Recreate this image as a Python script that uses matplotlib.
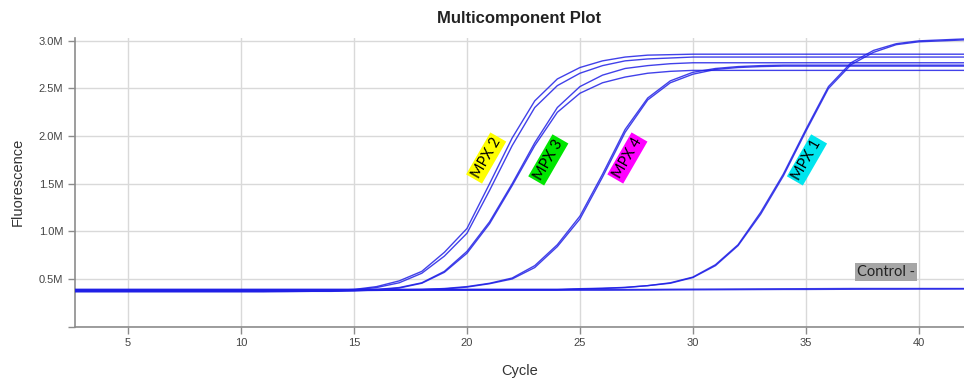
import numpy as np
import matplotlib.pyplot as plt
from matplotlib.ticker import FuncFormatter

# cycles 1..42, fluorescence in millions
cycles = list(range(1, 43))

mpx2_a = [0.37, 0.37, 0.37, 0.37, 0.37, 0.37, 0.37, 0.37, 0.37, 0.37, 0.37, 0.372, 0.375, 0.38,
          0.39, 0.42, 0.48, 0.58, 0.78, 1.03, 1.50, 1.98, 2.37, 2.60, 2.72, 2.79, 2.83, 2.85,
          2.855, 2.86, 2.86, 2.86, 2.86, 2.86, 2.86, 2.86, 2.86, 2.86, 2.86, 2.86, 2.86, 2.86]
mpx2_b = [0.365, 0.365, 0.365, 0.365, 0.365, 0.365, 0.365, 0.365, 0.365, 0.365, 0.365, 0.367, 0.37, 0.375,
          0.385, 0.41, 0.46, 0.56, 0.74, 0.98, 1.43, 1.90, 2.30, 2.53, 2.66, 2.74, 2.79, 2.81,
          2.82, 2.83, 2.83, 2.83, 2.83, 2.83, 2.83, 2.83, 2.83, 2.83, 2.83, 2.83, 2.83, 2.83]
mpx3_a = [0.375, 0.375, 0.375, 0.375, 0.375, 0.375, 0.375, 0.375, 0.375, 0.375, 0.375, 0.375, 0.375, 0.375,
          0.38, 0.39, 0.41, 0.46, 0.58, 0.79, 1.10, 1.50, 1.93, 2.30, 2.52, 2.64, 2.71, 2.74,
          2.76, 2.77, 2.77, 2.77, 2.77, 2.77, 2.77, 2.77, 2.77, 2.77, 2.77, 2.77, 2.77, 2.77]
mpx3_b = [0.37, 0.37, 0.37, 0.37, 0.37, 0.37, 0.37, 0.37, 0.37, 0.37, 0.37, 0.37, 0.37, 0.37,
          0.375, 0.385, 0.405, 0.455, 0.57, 0.77, 1.08, 1.48, 1.90, 2.25, 2.45, 2.56, 2.62, 2.66,
          2.68, 2.69, 2.69, 2.69, 2.69, 2.69, 2.69, 2.69, 2.69, 2.69, 2.69, 2.69, 2.69, 2.69]
mpx4_a = [0.38, 0.38, 0.38, 0.38, 0.38, 0.38, 0.38, 0.38, 0.38, 0.38, 0.38, 0.38, 0.38, 0.38,
          0.38, 0.383, 0.386, 0.39, 0.40, 0.42, 0.455, 0.51, 0.64, 0.86, 1.16, 1.60, 2.07, 2.40,
          2.58, 2.67, 2.71, 2.73, 2.74, 2.745, 2.745, 2.745, 2.745, 2.745, 2.745, 2.745, 2.745, 2.745]
mpx4_b = [0.378, 0.378, 0.378, 0.378, 0.378, 0.378, 0.378, 0.378, 0.378, 0.378, 0.378, 0.378, 0.378, 0.378,
          0.378, 0.38, 0.383, 0.387, 0.395, 0.415, 0.45, 0.50, 0.62, 0.84, 1.13, 1.57, 2.04, 2.38,
          2.56, 2.65, 2.70, 2.72, 2.73, 2.735, 2.735, 2.735, 2.735, 2.735, 2.735, 2.735, 2.735, 2.735]
mpx1_a = [0.385, 0.385, 0.385, 0.385, 0.385, 0.385, 0.385, 0.385, 0.385, 0.385, 0.385, 0.385, 0.385, 0.385,
          0.385, 0.385, 0.385, 0.385, 0.385, 0.385, 0.385, 0.385, 0.385, 0.385, 0.395, 0.40, 0.41, 0.43,
          0.46, 0.52, 0.65, 0.86, 1.20, 1.60, 2.07, 2.52, 2.77, 2.90, 2.97, 3.00, 3.01, 3.02]
mpx1_b = [0.39, 0.39, 0.39, 0.39, 0.39, 0.39, 0.39, 0.39, 0.39, 0.39, 0.39, 0.39, 0.39, 0.39,
          0.39, 0.39, 0.39, 0.39, 0.39, 0.39, 0.39, 0.39, 0.39, 0.39, 0.398, 0.403, 0.412, 0.43,
          0.455, 0.515, 0.64, 0.85, 1.18, 1.58, 2.05, 2.50, 2.75, 2.88, 2.96, 2.99, 3.00, 3.01]
ctrl_a = [0.39, 0.39, 0.39, 0.39, 0.39, 0.39, 0.39, 0.39, 0.39, 0.39, 0.39, 0.39, 0.39, 0.39,
          0.39, 0.39, 0.39, 0.39, 0.39, 0.39, 0.39, 0.39, 0.39, 0.39, 0.39, 0.39, 0.39, 0.39,
          0.392, 0.393, 0.394, 0.395, 0.396, 0.397, 0.398, 0.399, 0.40, 0.40, 0.40, 0.40, 0.40, 0.40]
ctrl_b = [0.382, 0.382, 0.382, 0.382, 0.382, 0.382, 0.382, 0.382, 0.382, 0.382, 0.382, 0.382, 0.382, 0.382,
          0.382, 0.382, 0.382, 0.382, 0.382, 0.382, 0.382, 0.382, 0.382, 0.382, 0.382, 0.382, 0.383, 0.384,
          0.385, 0.386, 0.387, 0.388, 0.389, 0.39, 0.39, 0.391, 0.392, 0.393, 0.393, 0.394, 0.394, 0.395]

curves = [mpx2_a, mpx2_b, mpx3_a, mpx3_b, mpx4_a, mpx4_b, mpx1_a, mpx1_b, ctrl_a, ctrl_b]

labels = ["MPX 2", "MPX 3", "MPX 4", "MPX 1"]
label_x = [20.85, 23.6, 27.1, 35.05]
label_y = [1.77, 1.75, 1.77, 1.75]
label_colors = ["#ffff00", "#00e600", "#ff00ff", "#00e5ee"]

plt.rcParams['font.family'] = ['Liberation Sans', 'DejaVu Sans']

fig = plt.figure(figsize=(9.64, 3.78), dpi=100)
ax = fig.add_axes([75 / 964, (378 - 326.6) / 378, 1 - 75 / 964, (326.6 - 38) / 378])

for c in curves:
    ax.plot(cycles, np.array(c) * 1e6, color="#2020e6", lw=1.0, alpha=0.85, zorder=3)

ax.set_xlim(2.65, 42)
ax.set_ylim(0, 3.03e6)
ax.set_xticks([5, 10, 15, 20, 25, 30, 35, 40])
ax.set_yticks([0, 0.5e6, 1.0e6, 1.5e6, 2.0e6, 2.5e6, 3.0e6])
ax.yaxis.set_major_formatter(FuncFormatter(lambda v, p: "" if v == 0 else f"{v / 1e6:.1f}M"))

ax.grid(True, color="#d9d9d9", lw=1)
ax.set_axisbelow(True)
for s in ["top", "right"]:
    ax.spines[s].set_visible(False)
for s in ["left", "bottom"]:
    ax.spines[s].set_color("#8c8c8c")
    ax.spines[s].set_linewidth(1.2)
ax.tick_params(colors="#8c8c8c", labelcolor="#444444", labelsize=8, length=5, width=1)

ax.set_title("Multicomponent Plot", fontsize=12, fontweight="bold", color="#222222", pad=11)
ax.set_xlabel("Cycle", fontsize=10.5, color="#333333", labelpad=11)
ax.set_ylabel("Fluorescence", fontsize=10.5, color="#333333", labelpad=10)

for t, x, y, col in zip(labels, label_x, label_y, label_colors):
    ax.text(x, y * 1e6, t, rotation=60, ha="center", va="center", fontsize=10.5,
            family=["Lato", "DejaVu Sans"], color="black", zorder=5,
            bbox=dict(boxstyle="square,pad=0.15", fc=col, ec="none"))

ax.text(38.55, 0.57e6, "Control -", ha="center", va="center", fontsize=10.5,
        family=["Lato", "DejaVu Sans"], color="#222222", zorder=5,
        bbox=dict(boxstyle="square,pad=0.15", fc="#a6a6a6", ec="none"))

fig.savefig("out.png", dpi=100)
